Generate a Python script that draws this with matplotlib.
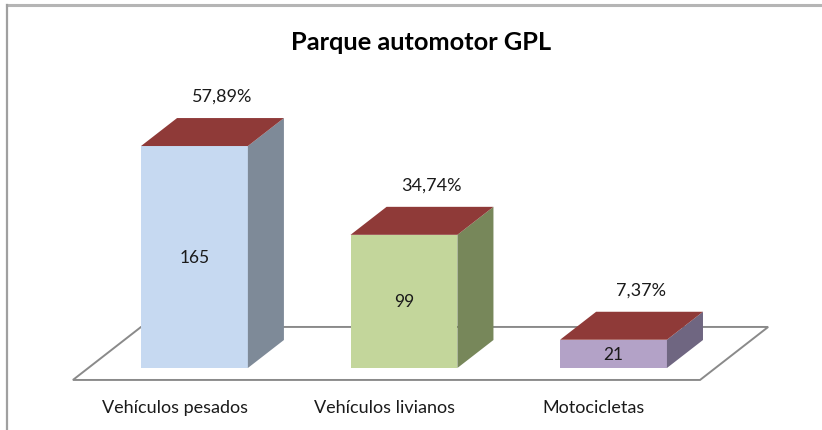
import matplotlib
matplotlib.use("Agg")
import matplotlib.pyplot as plt
from matplotlib.patches import Polygon
from matplotlib.lines import Line2D

# Chart data
categories = ["Vehículos pesados", "Vehículos livianos", "Motocicletas"]
counts = [165, 99, 21]
title = "Parque automotor GPL"

total = sum(counts)
percent_labels = [f"{100 * c / total:.2f}%".replace(".", ",") for c in counts]

# Styling
front_colors = ["#C6D9F1", "#C3D69B", "#B3A2C7"]
side_colors = ["#7E8A98", "#77875A", "#6F6681"]
top_color = "#8F3A38"
floor_edge = "#8A8A8A"
text_color = "#1A1A1A"
font = "Lato"
label_size = 13

# Geometry in data units (x: category index, y: count)
bar_half = 0.255
depth_dx, depth_dy = 0.172, 20.8
floor_front_y, floor_back_y = -8.9, 30.5
floor_left, floor_right = -0.58, 2.413
floor_dx = 0.325

fig = plt.figure(figsize=(8.22, 4.31), dpi=100)
ax = fig.add_axes([0, 0, 1, 1])
ax.set_xlim(-0.928, 2.995)
ax.set_ylim(-46.1, 274.3)
ax.axis("off")

# Chart frame
fig.add_artist(Line2D([7 / 822, 1], [1 - 6 / 431] * 2, transform=fig.transFigure,
                      color="#B5B5B5", lw=2.2))
fig.add_artist(Line2D([7 / 822] * 2, [0, 1 - 6 / 431], transform=fig.transFigure,
                      color="#A0A0A0", lw=1.6))

# Floor
floor = Polygon([(floor_left, floor_front_y), (floor_right, floor_front_y),
                 (floor_right + floor_dx, floor_back_y), (floor_left + floor_dx, floor_back_y)],
                closed=True, facecolor="white", edgecolor=floor_edge, lw=1.4, zorder=1)
ax.add_patch(floor)

# Bars as boxes: front, side and top faces
for i, (v, fc, sc) in enumerate(zip(counts, front_colors, side_colors)):
    x0, x1 = i - bar_half, i + bar_half
    front = Polygon([(x0, 0), (x1, 0), (x1, v), (x0, v)], closed=True,
                    facecolor=fc, edgecolor="none", zorder=3)
    side = Polygon([(x1, 0), (x1 + depth_dx, depth_dy), (x1 + depth_dx, v + depth_dy), (x1, v)],
                   closed=True, facecolor=sc, edgecolor="none", zorder=3)
    top = Polygon([(x0, v), (x1, v), (x1 + depth_dx, v + depth_dy), (x0 + depth_dx, v + depth_dy)],
                  closed=True, facecolor=top_color, edgecolor="none", zorder=3)
    for p in (front, side, top):
        ax.add_patch(p)

    ax.text(i, v / 2, str(v), ha="center", va="center", fontsize=12.5,
            family=font, color=text_color, zorder=4)
    ax.text(i + 0.13, v + depth_dy + 16.7, percent_labels[i], ha="center", va="center",
            fontsize=label_size, family=font, color=text_color, zorder=4)
    ax.text(i - 0.095, -29, categories[i], ha="center", va="center", fontsize=label_size,
            family=font, color=text_color, zorder=4)

fig.text(421 / 822, 1 - 42 / 431, title, ha="center", va="center", fontsize=18.3,
         fontweight="bold", family=font, color="#000000")

fig.savefig("out.png", dpi=100)
